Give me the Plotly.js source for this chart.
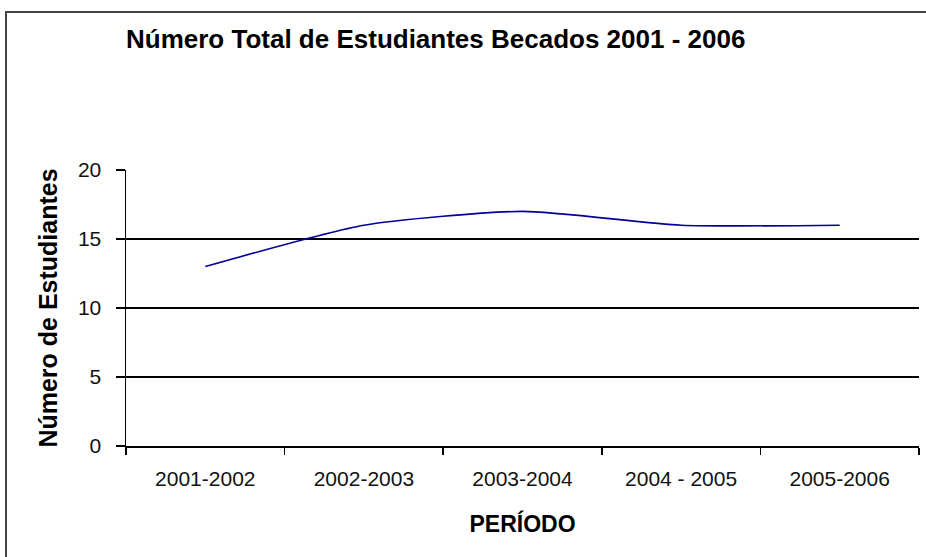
<!DOCTYPE html>
<html>
<head>
<meta charset="utf-8">
<script src="https://cdn.plot.ly/plotly-3.0.1.min.js"></script>
<style>
body{margin:0;background:#fff;}
#frame{position:absolute;left:5px;top:11px;width:1000px;height:700px;border-left:2px solid #444;border-top:2px solid #444;box-sizing:border-box;}
#chart{position:absolute;left:0;top:0;width:926px;height:557px;}
</style>
</head>
<body>
<div id="frame"></div>
<div id="chart"></div>
<script>
const periods = ["2001-2002", "2002-2003", "2003-2004", "2004 - 2005", "2005-2006"];
const students = [13, 16, 17, 16, 16];
const yTicks = [0, 5, 10, 15, 20];
const gridTicks = [5, 10, 15];

const FONT = "Liberation Sans, Arial, sans-serif";

const trace = {
  x: periods, y: students, type: "scatter", mode: "lines",
  line: {color: "#000099", width: 1.6, shape: "spline", smoothing: 0.6},
  hoverinfo: "skip"
};
const gridTrace = {x: periods, y: students, type: "scatter", mode: "none", yaxis: "y2", hoverinfo: "skip", showlegend:false};

const layout = {
  width: 926, height: 557,
  margin: {l: 126, r: 7, t: 170, b: 111},
  paper_bgcolor: "rgba(0,0,0,0)", plot_bgcolor: "rgba(0,0,0,0)",
  showlegend: false,
  title: {text: "<b>Número Total de Estudiantes Becados 2001 - 2006</b>",
    font: {family: FONT, size: 26, color: "#000"},
    xref: "container", yref: "container", x: 126/926, xanchor: "left", y: 1 - 39/557, yanchor: "middle"},
  xaxis: {
    type: "category", range: [-0.5, 4.5], tickson: "boundaries",
    ticks: "outside", ticklen: 7, tickwidth: 1.5, tickcolor: "#000",
    showline: true, linecolor: "#000", linewidth: 1.5,
    showgrid: false, zeroline: false,
    tickfont: {family: FONT, size: 21, color: "#111"},
    ticklabelstandoff: 13,
    title: {text: "<b>PERÍODO</b>", font: {family: FONT, size: 23, color: "#000"}, standoff: 27}
  },
  yaxis: {
    range: [0, 20], tickvals: yTicks, ticktext: yTicks.map(String),
    ticks: "outside", ticklen: 9, tickwidth: 1.5, tickcolor: "#000",
    showline: true, linecolor: "#000", linewidth: 1.5,
    showgrid: false, zeroline: false,
    tickfont: {family: FONT, size: 21, color: "#111"},
    ticklabelstandoff: 10,
    title: {text: "<b>Número de Estudiantes</b>", font: {family: FONT, size: 25, color: "#000"}, standoff: 13}
  },
  yaxis2: {
    overlaying: "y", range: [0, 20], tickvals: gridTicks,
    showgrid: true, gridcolor: "#000", gridwidth: 1.8,
    showticklabels: false, ticks: "", showline: false, zeroline: false
  }
};

Plotly.newPlot("chart", [gridTrace, trace], layout, {staticPlot: true, displayModeBar: false});
</script>
</body>
</html>
